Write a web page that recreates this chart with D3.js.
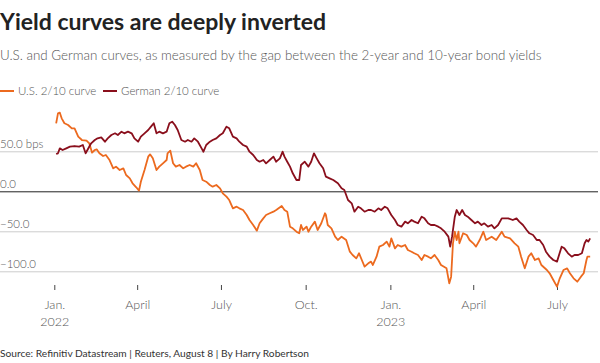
<!DOCTYPE html>
<html>
<head>
<meta charset="utf-8">
<script src="https://cdn.jsdelivr.net/npm/d3@7"></script>
<style>
    body { margin: 0; background: #fff; }
    svg { display: block; font-family: Lato, "Noto Sans", sans-serif; }
</style>
</head>
<body>
<div id="chart"></div>
<script>
// Yield curves chart: U.S. and German 2/10 spreads in basis points

const width = 600;
const height = 363;

// ---------- Data ----------

const usDates = [
    "2022-01-03", "2022-01-05", "2022-01-07", "2022-01-09", "2022-01-12", "2022-01-16", "2022-01-20", "2022-01-23",
    "2022-01-27", "2022-01-31", "2022-02-05", "2022-02-08", "2022-02-11", "2022-02-14", "2022-02-16", "2022-02-19",
    "2022-02-23", "2022-02-26", "2022-03-02", "2022-03-06", "2022-03-09", "2022-03-13", "2022-03-17", "2022-03-20",
    "2022-03-24", "2022-03-27", "2022-03-31", "2022-04-03", "2022-04-05", "2022-04-09", "2022-04-13", "2022-04-15",
    "2022-04-18", "2022-04-22", "2022-04-25", "2022-04-29", "2022-05-03", "2022-05-04", "2022-05-07", "2022-05-10",
    "2022-05-13", "2022-05-17", "2022-05-21", "2022-05-24", "2022-05-28", "2022-06-01", "2022-06-04", "2022-06-08",
    "2022-06-11", "2022-06-15", "2022-06-19", "2022-06-22", "2022-06-26", "2022-06-30", "2022-07-03", "2022-07-07",
    "2022-07-10", "2022-07-14", "2022-07-18", "2022-07-21", "2022-07-25", "2022-07-29", "2022-08-01", "2022-08-05",
    "2022-08-09", "2022-08-12", "2022-08-16", "2022-08-19", "2022-08-23", "2022-08-27", "2022-08-30", "2022-09-05",
    "2022-09-08", "2022-09-11", "2022-09-14", "2022-09-17", "2022-09-21", "2022-09-24", "2022-09-26", "2022-09-28",
    "2022-10-02", "2022-10-04", "2022-10-07", "2022-10-11", "2022-10-14", "2022-10-18", "2022-10-22", "2022-10-23",
    "2022-10-25", "2022-10-29", "2022-11-02", "2022-11-05", "2022-11-09", "2022-11-14", "2022-11-18", "2022-11-21",
    "2022-11-25", "2022-11-28", "2022-12-01", "2022-12-04", "2022-12-08", "2022-12-11", "2022-12-13", "2022-12-17",
    "2022-12-20", "2022-12-24", "2022-12-28", "2022-12-31", "2023-01-02", "2023-01-06", "2023-01-09", "2023-01-13",
    "2023-01-17", "2023-01-20", "2023-01-24", "2023-01-27", "2023-01-31", "2023-02-04", "2023-02-07", "2023-02-11",
    "2023-02-14", "2023-02-18", "2023-02-22", "2023-02-25", "2023-03-03", "2023-03-06", "2023-03-08", "2023-03-10",
    "2023-03-12", "2023-03-14", "2023-03-16", "2023-03-17", "2023-03-21", "2023-03-25", "2023-03-28", "2023-04-01",
    "2023-04-04", "2023-04-08", "2023-04-12", "2023-04-15", "2023-04-21", "2023-04-26", "2023-05-02", "2023-05-05",
    "2023-05-11", "2023-05-16", "2023-05-20", "2023-05-23", "2023-05-27", "2023-05-31", "2023-06-03", "2023-06-07",
    "2023-06-11", "2023-06-14", "2023-06-20", "2023-06-23", "2023-06-27", "2023-07-01", "2023-07-04", "2023-07-08",
    "2023-07-12", "2023-07-15", "2023-07-19", "2023-07-23", "2023-07-27", "2023-07-30", "2023-08-02", "2023-08-03",
    "2023-08-06"
];

const usValues = [
    85, 97.5, 98.3, 91.2, 85, 82.9, 78.7, 78.7,
    68.3, 64.1, 63.3, 60, 48.3, 51.6, 52.5, 47.5,
    44.1, 45.4, 39.1, 28.7, 30.8, 26.6, 28.7, 20.4,
    16.2, 10, 5, 0.8, 12, 26.6, 43.3, 46.2,
    41.2, 26.6, 30.8, 35, 39.1, 47.5, 50.8, 35,
    30.8, 32.9, 28.7, 30.8, 32.9, 30.8, 35, 26.6,
    14.1, 12, 7.9, 5.8, 7.9, 3.7, -2.5, -6.7,
    -10.9, -21.3, -19.2, -21.3, -23.4, -29.6, -35.9, -42.1,
    -49.2, -40, -33.8, -29.6, -27.5, -25.5, -23.4, -18.4,
    -23.4, -25.5, -44.2, -46.3, -50.5, -52.5, -42.1, -48.4,
    -44.2, -50.5, -44.2, -37.9, -48.4, -40, -27.5, -29.6,
    -42.1, -46.3, -56.7, -60.9, -56.7, -60.9, -75.5, -79.6,
    -83.8, -77.5, -85.9, -94.2, -90, -87.9, -92.1, -81.7,
    -69.2, -67.1, -62.9, -69.2, -58.8, -71.3, -67.1, -69.2,
    -67.1, -73.4, -75.5, -77.5, -79.6, -85.9, -79.6, -81.7,
    -83.8, -79.6, -85.9, -92.1, -96.3, -115, -106.7, -65,
    -50.5, -60.9, -50.5, -65, -52.5, -54.6, -60.9, -65,
    -69.2, -60.9, -50.5, -60.9, -56.7, -60.9, -50.5, -56.7,
    -58.8, -65, -69.2, -81.7, -96.3, -81.7, -77.5, -85.9,
    -83.8, -92.1, -98.4, -102.5, -110.9, -119.2, -108.8, -98.4,
    -96.3, -102.5, -108.8, -113, -106.7, -102.5, -85.9, -81.7,
    -81.7
];

const deDates = [
    "2022-01-03", "2022-01-05", "2022-01-07", "2022-01-10", "2022-01-14", "2022-01-18", "2022-01-23", "2022-01-28",
    "2022-02-01", "2022-02-04", "2022-02-06", "2022-02-10", "2022-02-14", "2022-02-17", "2022-02-21", "2022-02-25",
    "2022-02-28", "2022-03-04", "2022-03-08", "2022-03-11", "2022-03-15", "2022-03-18", "2022-03-22", "2022-03-26",
    "2022-03-29", "2022-04-02", "2022-04-05", "2022-04-09", "2022-04-13", "2022-04-16", "2022-04-19", "2022-04-22",
    "2022-04-25", "2022-04-29", "2022-05-03", "2022-05-06", "2022-05-09", "2022-05-12", "2022-05-15", "2022-05-19",
    "2022-05-23", "2022-05-26", "2022-05-30", "2022-06-02", "2022-06-06", "2022-06-10", "2022-06-12", "2022-06-15",
    "2022-06-19", "2022-06-22", "2022-06-26", "2022-06-30", "2022-07-03", "2022-07-07", "2022-07-10", "2022-07-14",
    "2022-07-18", "2022-07-21", "2022-07-25", "2022-07-29", "2022-08-01", "2022-08-05", "2022-08-09", "2022-08-12",
    "2022-08-16", "2022-08-19", "2022-08-23", "2022-08-27", "2022-08-30", "2022-09-03", "2022-09-06", "2022-09-08",
    "2022-09-11", "2022-09-14", "2022-09-17", "2022-09-21", "2022-09-24", "2022-09-26", "2022-09-30", "2022-10-04",
    "2022-10-07", "2022-10-10", "2022-10-13", "2022-10-16", "2022-10-20", "2022-10-23", "2022-10-27", "2022-10-31",
    "2022-11-05", "2022-11-09", "2022-11-12", "2022-11-16", "2022-11-20", "2022-11-23", "2022-11-27", "2022-11-30",
    "2022-12-04", "2022-12-08", "2022-12-11", "2022-12-15", "2022-12-19", "2022-12-22", "2022-12-26", "2022-12-29",
    "2023-01-02", "2023-01-06", "2023-01-09", "2023-01-13", "2023-01-17", "2023-01-20", "2023-01-24", "2023-01-27",
    "2023-01-31", "2023-02-04", "2023-02-07", "2023-02-11", "2023-02-14", "2023-02-18", "2023-02-22", "2023-02-25",
    "2023-03-01", "2023-03-05", "2023-03-07", "2023-03-09", "2023-03-12", "2023-03-14", "2023-03-17", "2023-03-20",
    "2023-03-23", "2023-03-26", "2023-03-30", "2023-04-03", "2023-04-06", "2023-04-10", "2023-04-13", "2023-04-17",
    "2023-04-21", "2023-04-24", "2023-04-28", "2023-05-02", "2023-05-05", "2023-05-09", "2023-05-14", "2023-05-18",
    "2023-05-21", "2023-05-25", "2023-05-29", "2023-06-01", "2023-06-05", "2023-06-09", "2023-06-12", "2023-06-16",
    "2023-06-19", "2023-06-23", "2023-06-27", "2023-07-01", "2023-07-06", "2023-07-09", "2023-07-13", "2023-07-17",
    "2023-07-20", "2023-07-24", "2023-07-28", "2023-07-31", "2023-08-02", "2023-08-04", "2023-08-06"
];

const deValues = [
    46.6, 47.5, 53.7, 51.6, 53.7, 55.8, 56.6, 55.8,
    57.9, 47.5, 51.6, 60, 64.1, 66.2, 67.5, 62,
    66.2, 70.4, 72.5, 70.4, 74.5, 72.5, 74.5, 72.5,
    66.2, 62, 68.3, 72.5, 76.6, 80.8, 85, 72.5,
    74.5, 72.5, 74.5, 85, 87, 82.9, 76.6, 64.1,
    62, 64.1, 62, 66.2, 62, 53.7, 49.5, 57.9,
    62, 64.1, 66.2, 70.4, 72.5, 80.8, 78.7, 68.3,
    66.2, 62, 57.9, 55.8, 49.5, 45.4, 39.1, 37,
    39.1, 35, 39.1, 43.3, 37, 41.2, 49.5, 43.3,
    37, 30.8, 22.5, 14.1, 14.1, 32.9, 37, 30.8,
    37, 47.5, 41.2, 35, 28.7, 18.3, 16.2, 14.1,
    10, 3.7, 1.6, -10.9, -15, -25.5, -19.2, -21.3,
    -25.5, -23.4, -23.4, -25.5, -21.3, -23.4, -19.2, -21.3,
    -29.6, -35.9, -42.1, -44.2, -37.9, -40, -35.9, -37.9,
    -40, -31.7, -33.8, -40, -42.1, -42.1, -44.2, -46.3,
    -50.5, -56.7, -69.2, -56.7, -31.7, -23.4, -29.6, -23.4,
    -29.6, -31.7, -35.9, -40, -37.9, -42.1, -40, -44.2,
    -42.1, -46.3, -42.1, -33.8, -33.8, -33.8, -35.9, -33.8,
    -37.9, -42.1, -48.4, -52.5, -54.6, -60.9, -60.9, -67.1,
    -75.5, -81.7, -85.9, -87.9, -69.2, -71.3, -77.5, -81.7,
    -79.6, -79.6, -77.5, -65, -60.9, -62.9, -58.8
];

const yTicks = [50, 0, -50, -100];
const xTickDates = ["2022-01-01", "2022-04-01", "2022-07-01", "2022-10-01", "2023-01-01", "2023-04-01", "2023-07-01"];
const xTickLabels = [["Jan.", "2022"], ["April"], ["July"], ["Oct."], ["Jan.", "2023"], ["April"], ["July"]];

const parseDate = d3.timeParse("%Y-%m-%d");

const series = [
    { name: "U.S. 2/10 curve", color: "#ec6a1f", dates: usDates, values: usValues },
    { name: "German 2/10 curve", color: "#8a0f1c", dates: deDates, values: deValues }
];

// ---------- SVG ----------

const svg = d3.select("#chart")
    .append("svg")
    .attr("width", width)
    .attr("height", height);

// Titles
svg.append("text")
    .attr("x", 0)
    .attr("y", 30)
    .attr("font-size", 23)
    .attr("font-weight", 700)
    .attr("fill", "#222")
    .text("Yield curves are deeply inverted");

svg.append("text")
    .attr("x", 0)
    .attr("y", 60)
    .attr("font-size", 13.4)
    .attr("font-weight", 300)
    .attr("fill", "#555")
    .text("U.S. and German curves, as measured by the gap between the 2-year and 10-year bond yields");

// Legend
const legend = svg.append("g").attr("transform", "translate(0, 91)");
const legendX = [0, 103];
series.forEach((s, i) => {
    legend.append("line")
        .attr("x1", legendX[i])
        .attr("x2", legendX[i] + 14)
        .attr("stroke", s.color)
        .attr("stroke-width", 2);
    legend.append("text")
        .attr("x", legendX[i] + 18)
        .attr("y", 4)
        .attr("font-size", 11.5)
        .attr("font-weight", 300)
        .attr("fill", "#555")
        .text(s.name);
});

// ---------- Scales ----------

const xScale = d3.scaleTime()
    .domain([parseDate("2022-01-01"), parseDate("2023-08-08")])
    .range([54.3, 592]);

const yScale = d3.scaleLinear()
    .domain([-100, 50])
    .range([271.3, 151.3]);

// Gridlines with labels sitting above them
const yAxis = d3.axisRight(yScale)
    .tickValues(yTicks)
    .tickSize(598)
    .tickFormat(d => d === 50 ? "50.0 bps" : d3.format(".1f")(d).replace("-", "\u2212"));

const yAxisGroup = svg.append("g").call(yAxis);
yAxisGroup.select(".domain").remove();
yAxisGroup.selectAll(".tick line")
    .attr("stroke", d => d === 0 ? "#222" : "#ccc")
    .attr("stroke-width", 1);
yAxisGroup.selectAll(".tick text")
    .attr("x", 0)
    .attr("dy", -4)
    .attr("text-anchor", "start")
    .attr("font-family", "Lato, sans-serif")
    .attr("font-size", 11.5)
    .attr("font-weight", 300)
    .attr("fill", "#555");

// x axis with month ticks
const xAxis = d3.axisBottom(xScale)
    .tickValues(xTickDates.map(parseDate))
    .tickSize(5)
    .tickFormat("");

const xAxisGroup = svg.append("g")
    .attr("transform", "translate(0, 285)")
    .call(xAxis);
xAxisGroup.select(".domain").remove();
xAxisGroup.selectAll(".tick line").attr("stroke", "#444");
xAxisGroup.selectAll(".tick").each(function (d, i) {
    const t = d3.select(this).append("text")
        .attr("text-anchor", "middle")
        .attr("font-family", "Lato, sans-serif")
        .attr("font-size", 12.5)
        .attr("font-weight", 300)
        .attr("fill", "#555");
    xTickLabels[i].forEach((line, j) => {
        t.append("tspan").attr("x", 0).attr("y", 24 + j * 16.5).text(line);
    });
});

// ---------- Lines ----------

const lineGenerator = d3.line()
    .x(d => xScale(d.date))
    .y(d => yScale(d.value));

series.forEach(s => {
    const points = s.dates.map((d, i) => ({ date: parseDate(d), value: s.values[i] }));
    svg.append("path")
        .datum(points)
        .attr("fill", "none")
        .attr("stroke", s.color)
        .attr("stroke-width", 1.8)
        .attr("stroke-linejoin", "round")
        .attr("d", lineGenerator);
});

// Source
svg.append("text")
    .attr("x", 0)
    .attr("y", 357)
    .attr("font-size", 10.2)
    .attr("fill", "#333")
    .text("Source: Refinitiv Datastream | Reuters, August 8 | By Harry Robertson");
</script>
</body>
</html>
